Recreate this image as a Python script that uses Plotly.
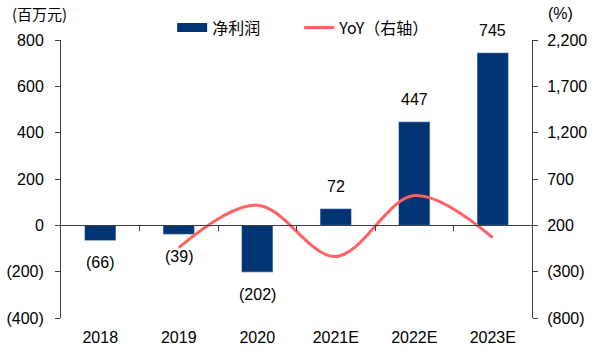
import plotly.graph_objects as go

years = ["2018", "2019", "2020", "2021E", "2022E", "2023E"]
net_profit = [-66, -39, -202, 72, 447, 745]
yoy = [None, -41, 418, -136, 521, 67]
left_ticks = [-400, -200, 0, 200, 400, 600, 800]
right_ticks = [-800, -300, 200, 700, 1200, 1700, 2200]

NAVY = "#003473"
RED = "#FF6262"
AX = "#404040"
NUM_FONT = "Liberation Sans"
CJK_FONT = "Noto Sans CJK SC"


def fmt(v):
    s = f"{abs(v):,}"
    return f"({s})" if v < 0 else s


xs = list(range(len(years)))
bounds = [i + 0.5 for i in xs[:-1]]
xr = [-0.5, len(years) - 0.5]

fig = go.Figure()
fig.add_trace(go.Bar(x=xs, y=net_profit, marker_color=NAVY, showlegend=False,
                     xaxis="x", yaxis="y"))
# legend proxy for bar
fig.add_trace(go.Scatter(x=[None], y=[None], mode="lines", name="净利润",
                         line=dict(color=NAVY, width=9), xaxis="x", yaxis="y"))
fig.add_trace(go.Scatter(x=xs, y=yoy, mode="lines", name="YoY（右轴）",
                         line=dict(color=RED, width=3, shape="spline", smoothing=1.0),
                         connectgaps=False, xaxis="x", yaxis="y2"))
# invisible trace to hold the zero-line axis
fig.add_trace(go.Scatter(x=[xs[0], xs[-1]], y=[0, 0], mode="markers", opacity=0,
                         showlegend=False, hoverinfo="skip", xaxis="x2", yaxis="y"))

for x, v in zip(xs, net_profit):
    fig.add_annotation(x=x, y=v, xref="x", yref="y", text=fmt(v), showarrow=False,
                       yshift=22 if v >= 0 else -22,
                       font=dict(family=NUM_FONT, size=16, color="black"))

fig.add_annotation(x=-0.108, y=1.094, xref="paper", yref="paper", text="(百万元)",
                   showarrow=False, xanchor="left", yanchor="middle",
                   font=dict(family=CJK_FONT, size=15, color="black"))
fig.add_annotation(x=1.03, y=1.094, xref="paper", yref="paper", text="(%)",
                   showarrow=False, xanchor="left", yanchor="middle",
                   font=dict(family=NUM_FONT, size=16, color="black"))

fig.update_layout(
    width=600, height=351,
    margin=dict(l=61, r=68, t=40, b=33, autoexpand=False),
    paper_bgcolor="white", plot_bgcolor="white",
    bargap=0.6,
    font=dict(family=NUM_FONT, size=16, color="black"),
    legend=dict(orientation="h", x=0.236, xanchor="left", y=1.045, yanchor="middle",
                font=dict(family=CJK_FONT, size=16, color="black"),
                bgcolor="rgba(0,0,0,0)", entrywidth=82, entrywidthmode="pixels"),
    xaxis=dict(range=xr, tickvals=xs, ticktext=years, showline=False, ticks="",
               showgrid=False, zeroline=False, automargin=False,
               tickfont=dict(family=NUM_FONT, size=16), ticklabelstandoff=8),
    xaxis2=dict(overlaying="x", anchor="free", position=1/3, range=xr,
                tickvals=bounds, showticklabels=False, automargin=False,
                ticks="outside", ticklen=5, tickcolor=AX, showline=True, linecolor=AX,
                linewidth=1, showgrid=False, zeroline=False),
    yaxis=dict(range=[-400, 800], tickvals=left_ticks, ticktext=[fmt(v) for v in left_ticks],
               showline=True, linecolor=AX, linewidth=1, ticks="outside", ticklen=5,
               tickcolor=AX, showgrid=False, zeroline=False, ticklabelstandoff=8,
               automargin=False, tickfont=dict(family=NUM_FONT, size=16)),
    yaxis2=dict(overlaying="y", side="right", range=[-800, 2200], tickvals=right_ticks,
                ticktext=[fmt(v) for v in right_ticks], showline=True, linecolor=AX,
                linewidth=1, ticks="outside", ticklen=5, tickcolor=AX, showgrid=False,
                zeroline=False, ticklabelstandoff=6, automargin=False,
                tickfont=dict(family=NUM_FONT, size=16)),
)

fig.write_html("out.html")
